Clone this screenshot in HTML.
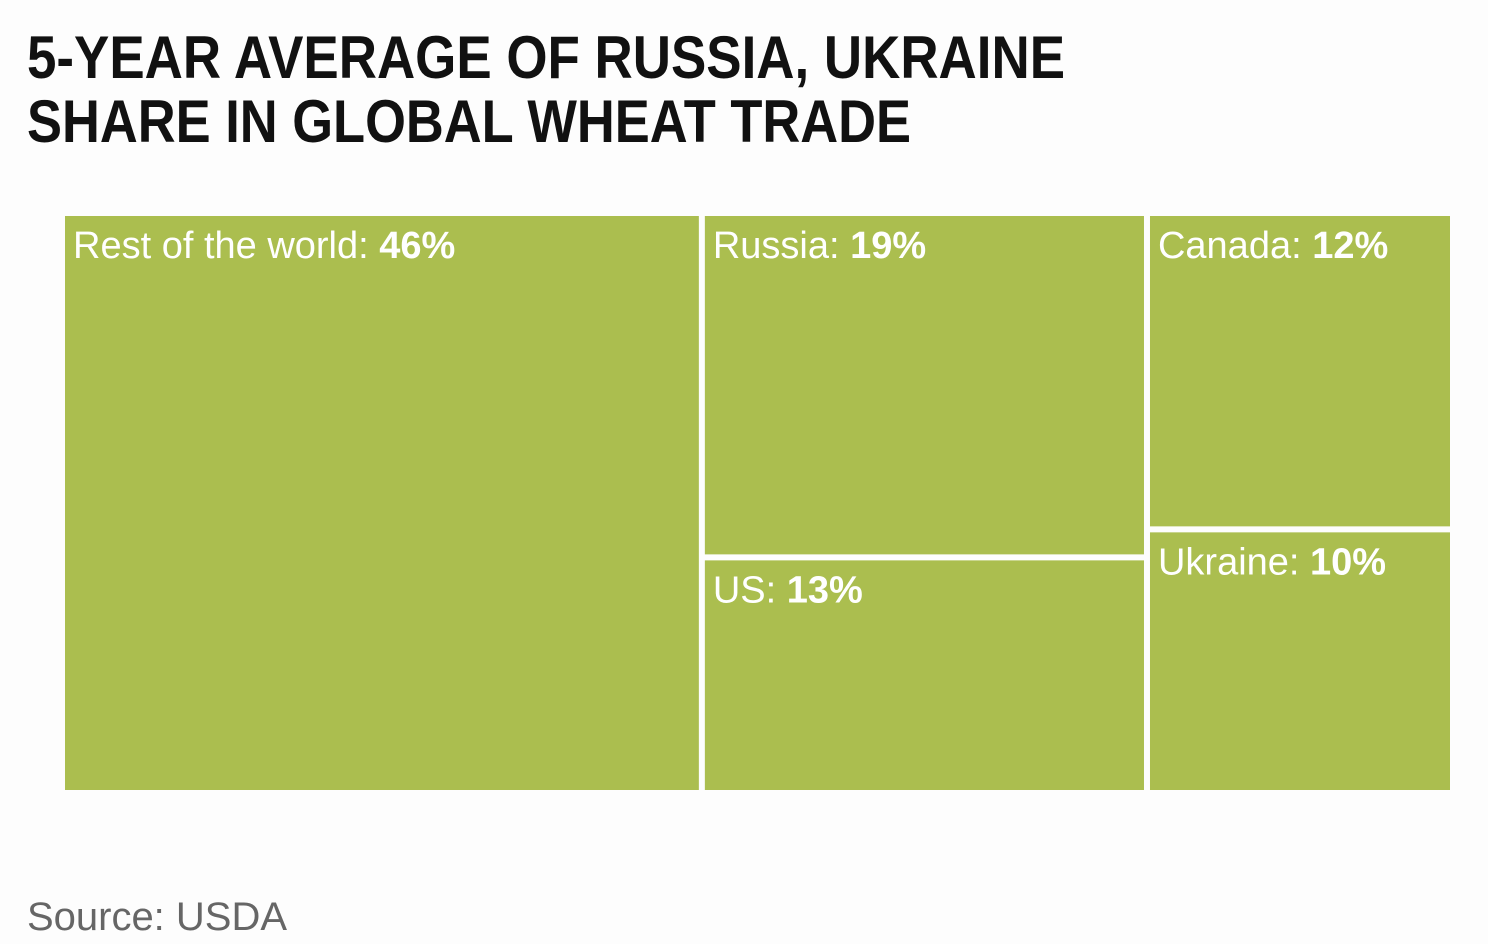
<!DOCTYPE html>
<html><head><meta charset="utf-8"><style>
html,body{margin:0;padding:0;background:#fdfdfd;}
svg{display:block;font-family:"Liberation Sans",sans-serif;}
</style></head><body>
<svg id="chart" width="1488" height="944" viewBox="0 0 1488 944">
<rect x="0" y="0" width="1488" height="944" fill="#fdfdfd"/>
<text x="27" y="78" font-size="60" font-weight="bold" fill="#111" textLength="1038" lengthAdjust="spacingAndGlyphs">5-YEAR AVERAGE OF RUSSIA, UKRAINE</text>
<text x="27" y="142" font-size="60" font-weight="bold" fill="#111" textLength="884" lengthAdjust="spacingAndGlyphs">SHARE IN GLOBAL WHEAT TRADE</text>
<g id="cells"></g>
<text x="27" y="930" font-size="40" fill="#666" textLength="260" lengthAdjust="spacingAndGlyphs">Source: USDA</text>
</svg>
<script>
const categories = ["Rest of the world", "Russia", "US", "Canada", "Ukraine"];
const values = [46, 19, 13, 12, 10];
const columns = [[0], [1, 2], [3, 4]];
const X0 = 65, Y0 = 216, W = 1391, H = 580, GAP = 6;
const NS = "http://www.w3.org/2000/svg";
const g = document.getElementById("cells");
const total = values.reduce((a, b) => a + b, 0);
let cx = X0;
columns.forEach(col => {
  const colSum = col.reduce((a, i) => a + values[i], 0);
  const cw = W * colSum / total;
  let cy = Y0;
  col.forEach(i => {
    const ch = H * values[i] / colSum;
    const r = document.createElementNS(NS, "rect");
    
    
    r.setAttribute("x", cx); r.setAttribute("y", cy);
    r.setAttribute("width", cw - GAP); r.setAttribute("height", ch - GAP);
    r.setAttribute("fill", "#abbe4f");
    g.appendChild(r);
    const t = document.createElementNS(NS, "text");
    
    
    t.setAttribute("x", cx + 8); t.setAttribute("y", cy + 42);
    t.setAttribute("font-size", "38"); t.setAttribute("fill", "#fff");
    const a = document.createElementNS(NS, "tspan");
    a.textContent = categories[i] + ": ";
    const b = document.createElementNS(NS, "tspan");
    b.setAttribute("font-weight", "bold");
    b.textContent = values[i] + "%";
    t.appendChild(a); t.appendChild(b);
    g.appendChild(t);
    cy += ch;
  });
  cx += cw;
});
</script>
</body></html>
